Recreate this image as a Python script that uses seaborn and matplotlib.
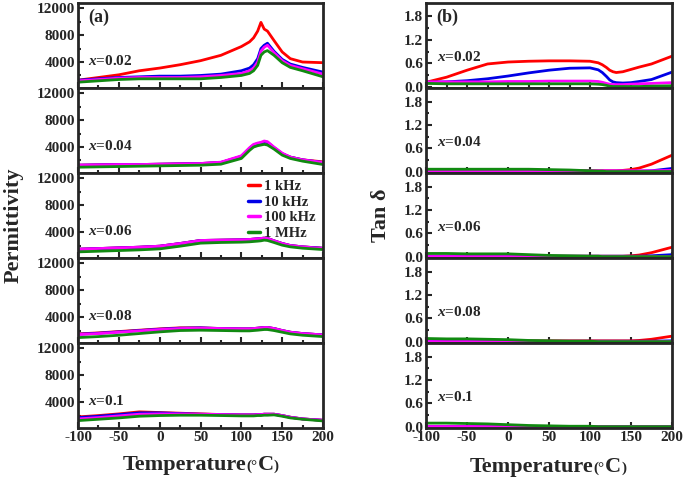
import numpy as np
import pandas as pd
import matplotlib
matplotlib.use("Agg")
import matplotlib.pyplot as plt
import seaborn as sns
from matplotlib.ticker import FixedLocator
from matplotlib.offsetbox import TextArea, HPacker, AnnotationBbox

# temperature grid (°C) shared by all curves
temp = [-100, -75, -50, -25, 0, 25, 50, 75, 100, 110, 115, 120, 124, 128, 132, 140, 150, 160, 175, 200]

freqs = ["1 kHz", "10 kHz", "100 kHz", "1 MHz"]
samples = ["0.02", "0.04", "0.06", "0.08", "0.1"]
xticks = [-100, -50, 0, 50, 100, 150, 200]

# permittivity, one list per frequency
eps_002 = [
    [1300, 1700, 2100, 2700, 3100, 3600, 4200, 5000, 6300, 7000, 7600, 8600, 9900, 8900, 8600, 7200, 5500, 4500, 4000, 3900],
    [1300, 1500, 1700, 1800, 1900, 1900, 2000, 2200, 2700, 3100, 3600, 4500, 6000, 6500, 6800, 5600, 4400, 3700, 3200, 2500],
    [1200, 1400, 1600, 1700, 1700, 1700, 1800, 2000, 2300, 2700, 3100, 4000, 5600, 6200, 6500, 5400, 4200, 3500, 3000, 2200],
    [1000, 1200, 1400, 1500, 1500, 1500, 1500, 1700, 2000, 2300, 2700, 3500, 5000, 5500, 5700, 5000, 3900, 3200, 2700, 1800],
]
eps_004 = [
    [1300, 1350, 1400, 1400, 1450, 1500, 1550, 1700, 2600, 3800, 4300, 4500, 4600, 4750, 4700, 3900, 3000, 2500, 2100, 1800],
    [1300, 1350, 1400, 1400, 1450, 1500, 1550, 1700, 2600, 3800, 4300, 4500, 4600, 4750, 4700, 3900, 3000, 2500, 2100, 1700],
    [1300, 1350, 1400, 1400, 1450, 1500, 1550, 1750, 2700, 3900, 4400, 4600, 4700, 4900, 4800, 4000, 3100, 2500, 2100, 1700],
    [1000, 1050, 1100, 1150, 1200, 1250, 1300, 1450, 2300, 3500, 4000, 4200, 4300, 4400, 4300, 3700, 2800, 2300, 1900, 1400],
]
eps_006 = [
    [1450, 1550, 1650, 1750, 1900, 2300, 2750, 2800, 2850, 2900, 2950, 3000, 3050, 3100, 3050, 2700, 2300, 2000, 1800, 1600],
    [1450, 1550, 1650, 1750, 1900, 2300, 2750, 2800, 2850, 2900, 2950, 3000, 3050, 3100, 3050, 2700, 2300, 2000, 1800, 1600],
    [1450, 1550, 1650, 1750, 1900, 2300, 2750, 2800, 2850, 2900, 2950, 3000, 3050, 3100, 3050, 2700, 2300, 2000, 1800, 1550],
    [1050, 1150, 1250, 1350, 1500, 1900, 2350, 2450, 2500, 2550, 2600, 2650, 2700, 2800, 2750, 2450, 2050, 1800, 1600, 1400],
]
eps_008 = [
    [1500, 1650, 1850, 2050, 2250, 2400, 2400, 2300, 2250, 2250, 2300, 2350, 2400, 2450, 2450, 2300, 2000, 1750, 1550, 1350],
    [1450, 1600, 1800, 2000, 2200, 2350, 2400, 2300, 2250, 2250, 2300, 2350, 2400, 2450, 2450, 2300, 2000, 1750, 1550, 1350],
    [1400, 1550, 1750, 1950, 2150, 2300, 2350, 2300, 2250, 2250, 2300, 2350, 2400, 2450, 2450, 2300, 2000, 1750, 1550, 1350],
    [950, 1100, 1300, 1550, 1800, 2000, 2050, 2000, 1950, 1950, 2000, 2050, 2100, 2150, 2150, 2000, 1750, 1500, 1300, 1100],
]
eps_010 = [
    [1800, 2000, 2250, 2550, 2450, 2350, 2250, 2150, 2100, 2100, 2100, 2150, 2150, 2200, 2200, 2200, 2000, 1750, 1500, 1300],
    [1700, 1900, 2150, 2400, 2400, 2300, 2200, 2150, 2100, 2100, 2100, 2150, 2150, 2200, 2200, 2200, 2000, 1750, 1500, 1300],
    [1500, 1700, 1950, 2200, 2250, 2250, 2200, 2150, 2100, 2100, 2100, 2150, 2150, 2200, 2200, 2200, 2000, 1750, 1500, 1300],
    [1250, 1450, 1650, 1900, 2000, 2050, 2050, 2000, 1950, 1950, 1950, 2000, 2000, 2050, 2050, 2100, 1900, 1650, 1450, 1200],
]

# dielectric loss tan(delta)
tan_002 = [
    [0.11, 0.24, 0.42, 0.58, 0.63, 0.65, 0.66, 0.66, 0.65, 0.61, 0.56, 0.49, 0.42, 0.38, 0.36, 0.38, 0.44, 0.50, 0.58, 0.78],
    [0.11, 0.12, 0.15, 0.20, 0.27, 0.35, 0.42, 0.47, 0.48, 0.43, 0.36, 0.26, 0.17, 0.12, 0.10, 0.09, 0.10, 0.13, 0.18, 0.37],
    [0.12, 0.12, 0.12, 0.12, 0.13, 0.13, 0.14, 0.14, 0.14, 0.13, 0.11, 0.08, 0.06, 0.05, 0.05, 0.05, 0.06, 0.07, 0.08, 0.10],
    [0.08, 0.07, 0.07, 0.07, 0.07, 0.07, 0.07, 0.07, 0.07, 0.06, 0.05, 0.03, 0.01, 0.00, 0.00, 0.00, 0.00, 0.00, 0.01, 0.02],
]
tan_004 = [
    [0.02, 0.02, 0.02, 0.02, 0.02, 0.02, 0.02, 0.02, 0.02, 0.02, 0.02, 0.02, 0.02, 0.02, 0.02, 0.03, 0.05, 0.09, 0.19, 0.42],
    [0.01, 0.01, 0.01, 0.01, 0.01, 0.01, 0.01, 0.01, 0.01, 0.01, 0.01, 0.01, 0.01, 0.01, 0.01, 0.01, 0.01, 0.01, 0.02, 0.08],
    [0.02, 0.02, 0.02, 0.02, 0.02, 0.02, 0.02, 0.02, 0.02, 0.02, 0.02, 0.02, 0.02, 0.02, 0.02, 0.02, 0.02, 0.02, 0.02, 0.03],
    [0.06, 0.06, 0.06, 0.06, 0.06, 0.06, 0.05, 0.04, 0.02, 0.01, 0.01, 0.00, 0.00, 0.00, 0.00, 0.00, 0.00, 0.00, 0.00, 0.00],
]
tan_006 = [
    [0.01, 0.01, 0.01, 0.01, 0.01, 0.01, 0.01, 0.01, 0.01, 0.01, 0.01, 0.01, 0.01, 0.01, 0.01, 0.01, 0.02, 0.04, 0.10, 0.24],
    [0.01, 0.01, 0.01, 0.01, 0.01, 0.01, 0.01, 0.01, 0.01, 0.01, 0.01, 0.01, 0.01, 0.01, 0.01, 0.01, 0.01, 0.01, 0.02, 0.05],
    [0.02, 0.02, 0.02, 0.02, 0.02, 0.02, 0.02, 0.02, 0.02, 0.02, 0.02, 0.02, 0.02, 0.02, 0.02, 0.02, 0.02, 0.02, 0.02, 0.02],
    [0.08, 0.08, 0.07, 0.07, 0.07, 0.05, 0.03, 0.02, 0.01, 0.01, 0.00, 0.00, 0.00, 0.00, 0.00, 0.00, 0.00, 0.00, 0.00, 0.00],
]
tan_008 = [
    [0.02, 0.02, 0.02, 0.02, 0.02, 0.02, 0.02, 0.02, 0.02, 0.02, 0.02, 0.02, 0.02, 0.02, 0.02, 0.02, 0.02, 0.03, 0.06, 0.14],
    [0.01, 0.01, 0.01, 0.01, 0.01, 0.01, 0.01, 0.01, 0.01, 0.01, 0.01, 0.01, 0.01, 0.01, 0.01, 0.01, 0.01, 0.01, 0.01, 0.02],
    [0.02, 0.02, 0.02, 0.02, 0.02, 0.02, 0.02, 0.02, 0.02, 0.02, 0.02, 0.02, 0.02, 0.02, 0.02, 0.02, 0.02, 0.02, 0.02, 0.02],
    [0.08, 0.07, 0.07, 0.06, 0.05, 0.03, 0.02, 0.01, 0.01, 0.00, 0.00, 0.00, 0.00, 0.00, 0.00, 0.00, 0.00, 0.00, 0.00, 0.00],
]
tan_010 = [
    [0.02, 0.02, 0.02, 0.02, 0.02, 0.02, 0.02, 0.02, 0.02, 0.02, 0.02, 0.02, 0.02, 0.02, 0.02, 0.02, 0.02, 0.02, 0.02, 0.02],
    [0.01, 0.01, 0.01, 0.01, 0.01, 0.01, 0.01, 0.01, 0.01, 0.01, 0.01, 0.01, 0.01, 0.01, 0.01, 0.01, 0.01, 0.01, 0.01, 0.01],
    [0.02, 0.02, 0.02, 0.02, 0.02, 0.02, 0.02, 0.02, 0.02, 0.02, 0.02, 0.02, 0.02, 0.02, 0.02, 0.02, 0.02, 0.02, 0.02, 0.02],
    [0.09, 0.09, 0.08, 0.07, 0.05, 0.03, 0.02, 0.01, 0.01, 0.00, 0.00, 0.00, 0.00, 0.00, 0.00, 0.00, 0.00, 0.00, 0.00, 0.00],
]

eps_all = [eps_002, eps_004, eps_006, eps_008, eps_010]
tan_all = [tan_002, tan_004, tan_006, tan_008, tan_010]

colors = {"1 kHz": "#ff0000", "10 kHz": "#0000e6", "100 kHz": "#ff00ff", "1 MHz": "#118a11"}


def to_frame(series):
    rows = []
    for f, vals in zip(freqs, series):
        for t, v in zip(temp, vals):
            rows.append({"T": t, "val": v, "freq": f})
    return pd.DataFrame(rows)


def temp_label(x, y):
    # "Temperature(°C)" with small bracket and degree sign like the original
    big = dict(fontsize=16, fontweight="bold", family="Liberation Serif")
    small = dict(fontsize=11, fontweight="bold", family="Liberation Serif")
    parts = [TextArea("Temperature", textprops=big), TextArea("(°", textprops=small),
             TextArea("C", textprops=big), TextArea(")", textprops=small)]
    box = HPacker(children=parts, align="baseline", pad=0, sep=0)
    ab = AnnotationBbox(box, (x, y), xycoords="figure fraction", frameon=False,
                        box_alignment=(0.5, 0.5))
    fig.add_artist(ab)


sns.set_theme(style="ticks")
plt.rcParams["font.family"] = ["Liberation Serif", "DejaVu Serif"]
plt.rcParams["font.weight"] = "bold"
plt.rcParams["axes.linewidth"] = 2.0
plt.rcParams["mathtext.fontset"] = "custom"
plt.rcParams["mathtext.it"] = "Liberation Serif:italic:bold"
plt.rcParams["mathtext.rm"] = "Liberation Serif:bold"

fig = plt.figure(figsize=(6.85, 4.79), dpi=100)
gs_a = fig.add_gridspec(5, 1, left=0.114, right=0.4715, top=0.994, bottom=0.1065, hspace=0)
gs_b = fig.add_gridspec(5, 1, left=0.622, right=0.981, top=0.994, bottom=0.1065, hspace=0)

tick_font = dict(fontsize=11, fontweight="bold")

for col, (gs, data_all) in enumerate([(gs_a, eps_all), (gs_b, tan_all)]):
    for i in range(5):
        ax = fig.add_subplot(gs[i, 0])
        df = to_frame(data_all[i])
        sns.lineplot(data=df, x="T", y="val", hue="freq", hue_order=freqs, palette=colors,
                     linewidth=2.0, legend=False, sort=False, ax=ax)
        ax.set_xlim(-100, 200)
        ax.xaxis.set_major_locator(FixedLocator(xticks))
        ax.xaxis.set_minor_locator(FixedLocator([-75, -25, 25, 75, 125, 175]))
        if col == 0:
            ax.set_ylim(150, 12800)
            ax.yaxis.set_major_locator(FixedLocator([4000, 8000, 12000]))
            ax.yaxis.set_minor_locator(FixedLocator([2000, 6000, 10000]))
            ax.set_yticklabels(["4000", "8000", "12000"], **tick_font)
            tx, ty = 0.04, 0.32
        else:
            ax.set_ylim(-0.035, 2.15)
            ax.yaxis.set_major_locator(FixedLocator([0.0, 0.6, 1.2, 1.8]))
            ax.yaxis.set_minor_locator(FixedLocator([0.3, 0.9, 1.5]))
            ax.set_yticklabels(["0.0", "0.6", "1.2", "1.8"], **tick_font)
            tx, ty = 0.045, 0.36
        ax.tick_params(which="both", direction="in", width=1.5, top=False, right=False)
        ax.tick_params(which="major", length=4, pad=2)
        ax.tick_params(which="minor", length=2.5)
        ax.set_xlabel("")
        ax.set_ylabel("")
        if i < 4:
            ax.set_xticklabels([])
        else:
            ax.set_xticklabels([str(t) for t in xticks], **tick_font)
        ax.text(tx, ty, "$x$=" + samples[i], transform=ax.transAxes,
                fontsize=11, fontweight="bold", va="center", ha="left")
        if i == 0:
            ax.text(0.04, 0.83, "(a)" if col == 0 else "(b)", transform=ax.transAxes,
                    fontsize=13, fontweight="bold", va="center", ha="left")
        if col == 0 and i == 2:
            handles = [plt.Line2D([], [], color=colors[f], linewidth=2.5) for f in freqs]
            ax.legend(handles, freqs, loc="upper right", frameon=False, handlelength=0.8,
                      handletextpad=0.3, labelspacing=0.15, borderaxespad=0.1,
                      prop=dict(size=10.5, weight="bold"))

fig.text(0.02, 0.53, "Permittivity", rotation=90, ha="center", va="center",
         fontsize=16, fontweight="bold")
fig.text(0.556, 0.55, "Tan δ", rotation=90, ha="center", va="center",
         fontsize=16, fontweight="bold")
temp_label(0.293, 0.03)
temp_label(0.80, 0.025)

fig.savefig("out.png", dpi=100)
